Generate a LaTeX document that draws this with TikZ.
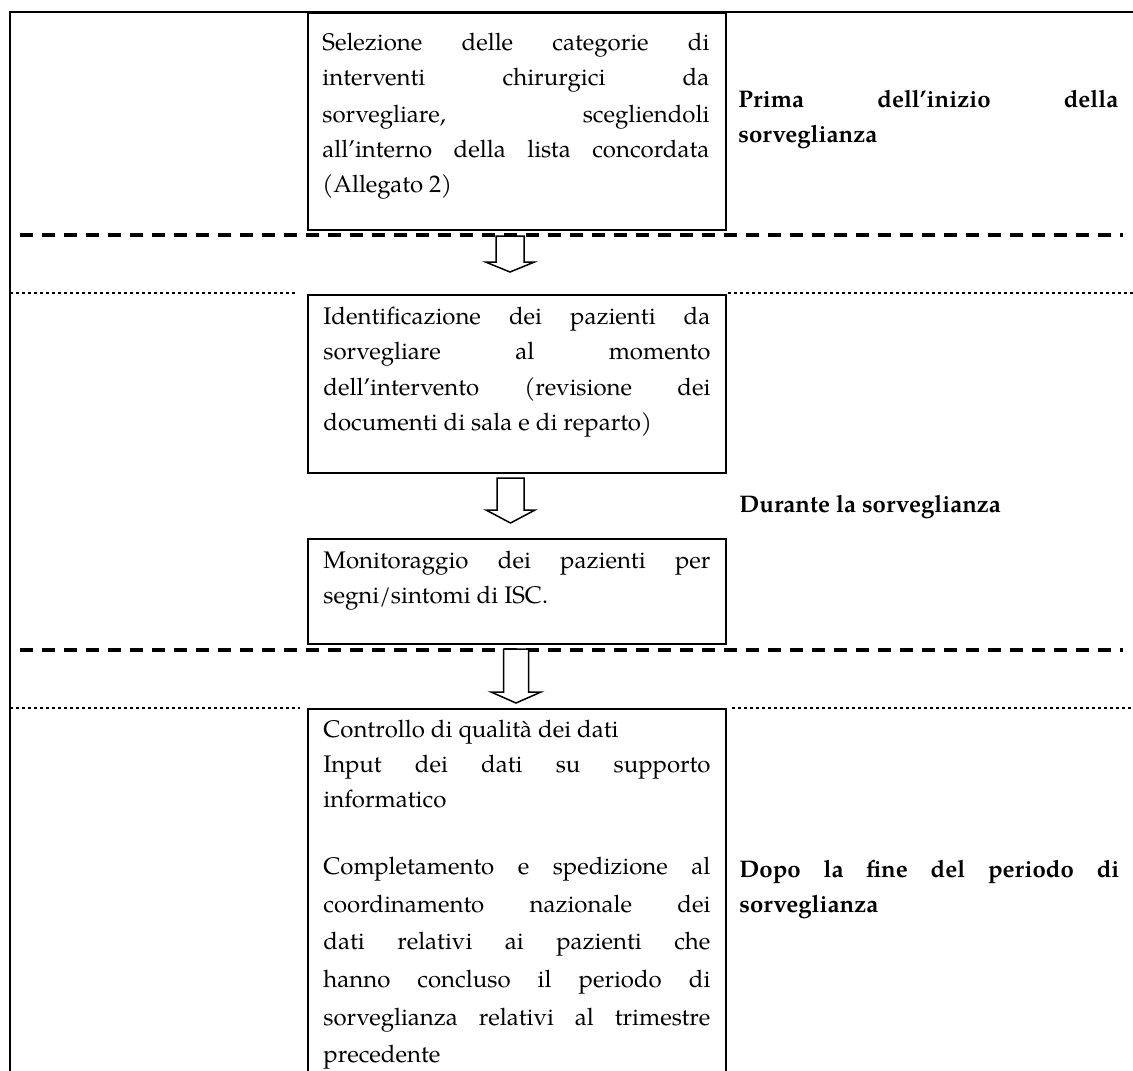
\documentclass[tikz,border=0pt]{standalone}
\usepackage{fontspec}
\setmainfont{TeX Gyre Pagella}
\newcommand\blockarrow[6]{% #1 cx, #2 ytop, #3 yhead, #4 ytip, #5 shaft half, #6 head half
  \draw[blockarr] ({#1-#5},#2) -- ({#1+#5},#2) -- ({#1+#5},#3) -- ({#1+#6},#3) -- (#1,#4) -- ({#1-#6},#3) -- ({#1-#5},#3) -- cycle;}
% justified line (box column) and plain line
\newcommand\jl[4]{\node[ln] (#1) at (#2,#3) {\hbox to 193.5pt{#4}};}
\newcommand\pl[4]{\node[ln] (#1) at (#2,#3) {#4};}
% justified / plain line (side column, bold)
\newcommand\jr[4]{\node[ln, font=\fontsize{12pt}{14pt}\selectfont\bfseries] (#1) at (#2,#3) {\hbox to 190pt{#4}};}
\newcommand\pr[4]{\node[ln, font=\fontsize{12pt}{14pt}\selectfont\bfseries] (#1) at (#2,#3) {#4};}
\tikzset{
  frame/.style={line width=1pt},
  boxst/.style={draw, line width=1pt, inner sep=0pt, anchor=north west, minimum width=208.75pt},
  ln/.style={anchor=base west, inner sep=0pt, font=\fontsize{12pt}{14pt}\selectfont},
  thickdash/.style={line width=1.75pt, dash pattern=on 6.5pt off 4.5pt},
  thindot/.style={line width=0.8pt, dash pattern=on 1.5pt off 1.5pt},
  blockarr/.style={draw, fill=white, line width=0.75pt, line join=miter},
}
\begin{document}
\begin{tikzpicture}[x=0.5pt, y=-0.5pt]
\useasboundingbox (0,0) rectangle (1133,1070);
% outer frame
\draw[frame] (10,1090) -- (10,12) -- (1145,12);
% boxes
\node[boxst, minimum height=108.5pt] (b1) at (307,12) {};
\node[boxst, minimum height=89pt] (b2) at (307,294) {};
\node[boxst, minimum height=52.5pt] (b3) at (307,538) {};
\node[boxst, minimum height=200pt] (b4) at (307,708) {};
% separators
\draw[thickdash] (20,235) -- (1123,235);
\draw[thickdash] (20,650) -- (1123,650);
\draw[thindot] (10,293) -- (298,293);
\draw[thindot] (728,293) -- (1133,293);
\draw[thindot] (10,708) -- (300,708);
\draw[thindot] (732,708) -- (1133,708);
% box 1
\jl{l11}{322}{51}{Selezione delle categorie di}
\jl{l12}{322}{86}{interventi chirurgici da}
\jl{l13}{322}{122}{sorvegliare, scegliendoli}
\jl{l14}{322}{157}{all’interno della lista concordata}
\pl{l15}{322}{192}{(Allegato 2)}
% box 2
\jl{l21}{323}{324}{Identificazione dei pazienti da}
\jl{l22}{323}{359}{sorvegliare al momento}
\jl{l23}{323}{395}{dell’intervento (revisione dei}
\pl{l24}{323}{430}{documenti di sala e di reparto)}
% box 3
\jl{l31}{323}{568}{Monitoraggio dei pazienti per}
\pl{l32}{323}{603}{segni/sintomi di ISC.}
% box 4
\pl{l41}{323}{737}{Controllo di qualità dei dati}
\jl{l42}{323}{772}{Input dei dati su supporto}
\pl{l43}{323}{807}{informatico}
\jl{l44}{323}{874}{Completamento e spedizione al}
\jl{l45}{323}{912}{coordinamento nazionale dei}
\jl{l46}{323}{949}{dati relativi ai pazienti che}
\jl{l47}{323}{987}{hanno concluso il periodo di}
\jl{l48}{323}{1025}{sorveglianza relativi al trimestre}
\pl{l49}{323}{1062}{precedente}
% side labels
\jr{r11}{738}{107}{Prima dell’inizio della}
\pr{r12}{738}{142}{sorveglianza}
\pr{r2}{739}{512}{Durante la sorveglianza}
\jr{r31}{739}{877}{Dopo la fine del periodo di}
\pr{r32}{739}{912}{sorveglianza}
% block arrows
\blockarrow{510}{236}{262}{272}{14}{24.5}
\blockarrow{510.5}{478}{510}{523}{13.5}{24.5}
\blockarrow{516}{649}{692}{703}{12.5}{25}
\end{tikzpicture}
\end{document}
